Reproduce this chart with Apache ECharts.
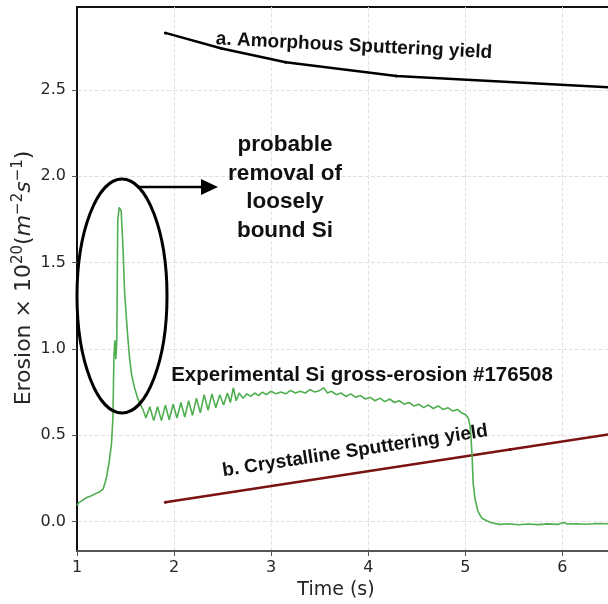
<!DOCTYPE html>
<html>
<head>
<meta charset="utf-8">
<script src="https://cdn.jsdelivr.net/npm/echarts@6/dist/echarts.min.js"></script>
<style>
  html, body { margin: 0; padding: 0; background: #fff; }
  #chart { width: 608px; height: 604px; }
</style>
</head>
<body>
<div id="chart"></div>
<script>
// experimental Si gross erosion #176508 (time in s, erosion in 1e20 m^-2 s^-1)
var expTime = [
  1.00, 1.02, 1.06, 1.10, 1.15, 1.20, 1.24, 1.27, 1.30, 1.33, 1.355, 1.37, 1.38, 1.39, 1.40, 1.41,
  1.42, 1.435, 1.455, 1.475, 1.49, 1.52, 1.54, 1.56, 1.59, 1.63, 1.68,
  1.71, 1.75, 1.79, 1.83, 1.87, 1.91, 1.95, 1.99, 2.03, 2.07, 2.11, 2.15, 2.19, 2.23, 2.27,
  2.31, 2.35, 2.39, 2.43, 2.47, 2.51, 2.55, 2.58, 2.61, 2.64, 2.67, 2.71, 2.75, 2.79,
  2.83, 2.87, 2.91, 2.95, 3.00, 3.05, 3.10, 3.15, 3.20, 3.25, 3.30, 3.35, 3.40, 3.45, 3.50,
  3.54, 3.58, 3.62, 3.67, 3.72, 3.77, 3.82, 3.87, 3.92, 3.97, 4.02, 4.07, 4.12, 4.17, 4.22,
  4.27, 4.32, 4.37, 4.42, 4.47, 4.52, 4.57, 4.62, 4.67, 4.72, 4.77, 4.82, 4.87, 4.92, 4.96,
  5.00, 5.03, 5.05, 5.06, 5.07, 5.08, 5.10, 5.13, 5.17, 5.22, 5.27, 5.35, 5.45, 5.55, 5.65,
  5.75, 5.85, 5.95, 6.01, 6.05, 6.15, 6.25, 6.35, 6.49
];
var expErosion = [
  0.095, 0.11, 0.125, 0.14, 0.15, 0.165, 0.175, 0.19, 0.245, 0.34, 0.45, 0.60, 0.95, 1.05, 0.94, 1.05,
  1.75, 1.82, 1.80, 1.57, 1.33, 1.09, 0.955, 0.86, 0.78, 0.706, 0.648,
  0.60, 0.665, 0.585, 0.665, 0.585, 0.675, 0.59, 0.68, 0.60, 0.69, 0.605, 0.70, 0.615, 0.715, 0.63,
  0.735, 0.645, 0.74, 0.66, 0.735, 0.675, 0.745, 0.69, 0.775, 0.70, 0.745, 0.715, 0.74, 0.725,
  0.745, 0.73, 0.75, 0.735, 0.755, 0.74, 0.75, 0.74, 0.76, 0.745, 0.755, 0.745, 0.765, 0.75, 0.76,
  0.775, 0.745, 0.755, 0.735, 0.745, 0.725, 0.74, 0.72, 0.73, 0.71, 0.72, 0.70, 0.715, 0.695, 0.71,
  0.69, 0.70, 0.68, 0.69, 0.67, 0.68, 0.66, 0.675, 0.655, 0.67, 0.65, 0.66, 0.64, 0.65, 0.63,
  0.62, 0.60, 0.55, 0.47, 0.376, 0.225, 0.13, 0.06, 0.02, 0.005, -0.006, -0.016, -0.012, -0.018, -0.014,
  -0.017, -0.013, -0.016, -0.005, -0.014, -0.012, -0.015, -0.011, -0.012
];

// a. amorphous sputtering yield
var amorphTime = [1.91, 2.49, 3.15, 4.29, 6.49];
var amorphYield = [2.83, 2.74, 2.66, 2.58, 2.515];

// b. crystalline sputtering yield
var crystTime = [1.91, 5.46, 6.49];
var crystYield = [0.112, 0.418, 0.507];

function pairs(xs, ys) {
  return xs.map(function (x, i) { return [x, ys[i]]; });
}

var chart = echarts.init(document.getElementById('chart'));

var tickFont = { fontFamily: 'DejaVu Sans', fontSize: 16, color: '#262626' };
var annoFont = 'bold 19px "Liberation Sans", Arial, sans-serif';
var gridLine = { show: true, showMinLine: false, showMaxLine: false, lineStyle: { color: '#e2e2e2', type: 'dashed' } };

var option = {
  animation: false,
  backgroundColor: '#fff',
  grid: {
    left: 77, top: 7, right: -2, bottom: 53,
    outerBoundsMode: 'none',
    show: true, borderColor: '#111', borderWidth: 2, backgroundColor: 'transparent'
  },
  xAxis: {
    type: 'value',
    min: 1, max: 6.49, interval: 1,
    name: 'Time (s)',
    nameLocation: 'middle',
    nameGap: 30,
    nameTextStyle: { fontFamily: 'DejaVu Sans', fontSize: 19, color: '#262626', padding: [0, 15, 0, 0] },
    axisLine: { show: true, onZero: false, lineStyle: { color: '#555', width: 2 } },
    axisTick: { show: true, length: 5, lineStyle: { color: '#555' } },
    axisLabel: Object.assign({ margin: 9, showMaxLabel: false }, tickFont),
    splitLine: gridLine
  },
  yAxis: {
    type: 'value',
    min: -0.17, max: 2.98,
    splitNumber: 6,
    axisLine: { show: true, onZero: false, lineStyle: { color: '#111', width: 2 } },
    axisTick: { show: true, length: 5, lineStyle: { color: '#555' } },
    axisLabel: Object.assign({
      margin: 11, showMinLabel: false, showMaxLabel: false,
      formatter: function (v) { return v.toFixed(1); }
    }, tickFont),
    splitLine: gridLine
  },
  series: [
    {
      name: 'Experimental Si gross-erosion #176508',
      type: 'line',
      data: pairs(expTime, expErosion),
      showSymbol: false,
      lineStyle: { color: '#4fae4f', width: 1.6 },
      z: 3
    },
    {
      name: 'a. Amorphous Sputtering yield',
      type: 'line',
      data: pairs(amorphTime, amorphYield),
      symbol: 'circle', symbolSize: 3,
      itemStyle: { color: '#000' },
      lineStyle: { color: '#000', width: 2.5 },
      z: 2
    },
    {
      name: 'b. Crystalline Sputtering yield',
      type: 'line',
      data: pairs(crystTime, crystYield),
      symbol: 'circle', symbolSize: 3,
      itemStyle: { color: '#6e1010' },
      lineStyle: { color: '#7a1212', width: 2.5 },
      z: 2
    }
  ],
  graphic: [
    {
      // y axis title
      type: 'text', z: 10, x: 24, y: 278, rotation: Math.PI / 2,
      style: {
        text: 'Erosion × 10{sup|20}({i|m}{sup|−2}{i|s}{sup|−1})',
        font: '22px "DejaVu Sans"', fill: '#262626', lineHeight: 26,
        align: 'center', verticalAlign: 'middle',
        rich: {
          i: { fontFamily: 'DejaVu Sans', fontSize: 22, fontStyle: 'italic', fill: '#262626' },
          sup: { fontFamily: 'DejaVu Sans', fontSize: 15, fill: '#262626', verticalAlign: 'top', lineHeight: 15 }
        }
      }
    },
    {
      type: 'ellipse', z: 10,
      shape: { cx: 122, cy: 296, rx: 45, ry: 117 },
      style: { fill: 'none', stroke: '#000', lineWidth: 3 }
    },
    {
      type: 'line', z: 10,
      shape: { x1: 137, y1: 187, x2: 205, y2: 187 },
      style: { stroke: '#000', lineWidth: 2.5 }
    },
    {
      type: 'polygon', z: 10,
      shape: { points: [[201, 179], [218, 187], [201, 195]] },
      style: { fill: '#000' }
    },
    {
      type: 'text', z: 10, x: 285, y: 188,
      style: {
        text: 'probable\nremoval of\nloosely\nbound Si',
        font: 'bold 22.5px "Liberation Sans", Arial, sans-serif',
        lineHeight: 28.5, fill: '#111', align: 'center', verticalAlign: 'middle'
      }
    },
    {
      type: 'text', z: 10, x: 354, y: 46, rotation: -0.05,
      style: { text: 'a. Amorphous Sputtering yield', font: annoFont, fill: '#111', align: 'center', verticalAlign: 'middle' }
    },
    {
      type: 'text', z: 10, x: 362, y: 375,
      style: { text: 'Experimental Si gross-erosion #176508', font: 'bold 20.5px "Liberation Sans", Arial, sans-serif', fill: '#111', align: 'center', verticalAlign: 'middle' }
    },
    {
      type: 'text', z: 10, x: 355, y: 451, rotation: 0.15,
      style: { text: 'b. Crystalline Sputtering yield', font: annoFont, fill: '#111', align: 'center', verticalAlign: 'middle' }
    }
  ]
};

option && chart.setOption(option);

window.addEventListener('resize', function () {
  chart.resize();
});
</script>
</body>
</html>
